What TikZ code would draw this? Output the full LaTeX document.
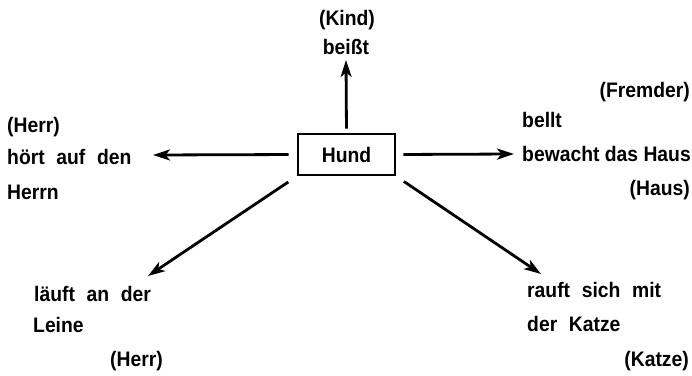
\documentclass[tikz,border=0pt]{standalone}
\usepackage{fontspec}
\setmainfont{Liberation Sans}[FakeStretch=0.92]
\usetikzlibrary{arrows.meta}
\begin{document}
\begin{tikzpicture}[x=1pt,y=-1pt,
  lbl/.style={inner sep=0pt,font=\fontsize{21}{24}\selectfont\bfseries},
  arr/.style={line width=2.8pt,-{Stealth[length=17pt,width=11pt,inset=4.5pt]}},
  box/.style={draw,line width=2.8pt,minimum width=97pt,minimum height=41pt,inner sep=0pt,font=\fontsize{21}{24}\selectfont\bfseries}]
\useasboundingbox (0,0) rectangle (692,375);
\node[box] (hund) at (346.5,154.5) {Hund};
% top
\node[lbl,anchor=base] (kind) at (347,25) {(Kind)};
\node[lbl,anchor=base] (beisst) at (346,54) {beißt};
% left
\node[lbl,anchor=base west] (herr1) at (7,132) {(Herr)};
\node[lbl,anchor=base west] (hoert) at (7,164) {hört\hspace{0.3em} auf\hspace{0.3em} den};
\node[lbl,anchor=base west] (herrn) at (7,199) {Herrn};
% right
\node[lbl,anchor=base east] (fremder) at (690,97) {(Fremder)};
\node[lbl,anchor=base west] (bellt) at (522,127) {bellt};
\node[lbl,anchor=base west] (bewacht) at (522,161) {bewacht das Haus};
\node[lbl,anchor=base east] (haus) at (690,195) {(Haus)};
% lower left
\node[lbl,anchor=base west] (laeuft) at (34,301) {läuft\hspace{0.3em} an\hspace{0.3em} der};
\node[lbl,anchor=base west] (leine) at (33,332) {Leine};
\node[lbl,anchor=base west] (herr2) at (110,366) {(Herr)};
% lower right
\node[lbl,anchor=base west] (rauft) at (527,297) {rauft\hspace{0.3em} sich\hspace{0.3em} mit};
\node[lbl,anchor=base west] (katze) at (527,331) {der\hspace{0.3em} Katze};
\node[lbl,anchor=base east] (katze2) at (689,366) {(Katze)};
% arrow tips
\coordinate (tUp) at (346,60);
\coordinate (tLeft) at (153,155);
\coordinate (tRight) at (514,154);
\coordinate (tLL) at (148,276);
\coordinate (tLR) at (541,274);
\draw[arr,shorten <=4pt] (hund.north) -- (tUp);
\draw[arr,shorten <=8pt] (hund.west) -- (tLeft);
\draw[arr,shorten <=7pt] (hund.east) -- (tRight);
\draw[arr,shorten <=10pt] (hund.south west) -- (tLL);
\draw[arr,shorten <=9pt] (hund.south east) -- (tLR);
\end{tikzpicture}
\end{document}
